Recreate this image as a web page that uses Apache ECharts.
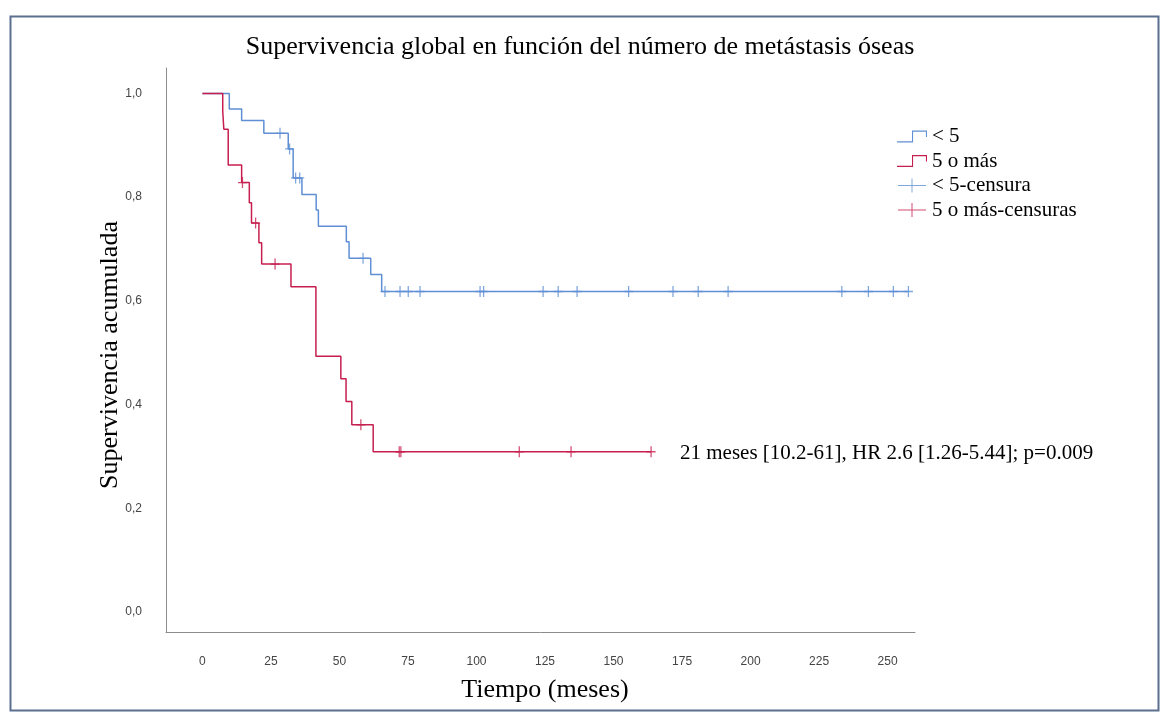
<!DOCTYPE html>
<html>
<head>
<meta charset="utf-8">
<script src="https://cdn.jsdelivr.net/npm/echarts@6/dist/echarts.min.js"></script>
<style>
  html, body { margin: 0; padding: 0; background: #ffffff; }
  #chart { width: 1164px; height: 721px; }
</style>
</head>
<body>
<div id="chart"></div>
<script>
// Kaplan-Meier steps: time (months) of each drop and survival after it
const menos5Tiempo = [0, 9.8, 14.3, 22.4, 31.3, 33.1, 36.3, 41.5, 42.3, 52.5, 53.5, 61.4, 65.4, 257.6];
const menos5Superv = [1.0, 0.970, 0.948, 0.923, 0.893, 0.837, 0.805, 0.775, 0.744, 0.714, 0.682, 0.651, 0.618, 0.618];
const cincoTiempo = [0, 7.4, 7.8, 9.4, 14.3, 17.1, 17.9, 20.6, 21.6, 32.3, 41.4, 50.5, 52.4, 54.5, 62.3, 163.7];
const cincoSuperv = [1.0, 0.966, 0.931, 0.862, 0.828, 0.789, 0.750, 0.712, 0.671, 0.627, 0.493, 0.450, 0.406, 0.361, 0.309, 0.309];

// Censored observations
const menos5CensTiempo = [28.3, 31.8, 34.0, 35.5, 58.6, 66.6, 72.1, 75.1, 79.4, 101.3, 102.6, 124.3, 129.8, 136.7, 155.5, 171.7, 180.9, 191.8, 233.3, 243.0, 252.1, 257.6];
const menos5CensSuperv = [0.923, 0.893, 0.837, 0.837, 0.682, 0.618, 0.618, 0.618, 0.618, 0.618, 0.618, 0.618, 0.618, 0.618, 0.618, 0.618, 0.618, 0.618, 0.618, 0.618, 0.618, 0.618];
const cincoCensTiempo = [14.6, 19.4, 26.5, 57.8, 71.8, 72.4, 115.6, 134.5, 163.7];
const cincoCensSuperv = [0.828, 0.750, 0.671, 0.361, 0.309, 0.309, 0.309, 0.309, 0.309];

// Axis ticks
const xTicks = [0, 25, 50, 75, 100, 125, 150, 175, 200, 225, 250];
const yTicks = [0, 0.2, 0.4, 0.6, 0.8, 1.0];

const nombres = ['< 5', '5 o más', '< 5-censura', '5 o más-censuras'];
const azul = '#5f8fd4';
const rojo = '#c61f4f';

const zip = (a, b) => a.map((v, i) => [v, b[i]]);

const iconoEscalon = 'path://M0,12 L14,12 L14,2 L28,2 L28,8 L27,8 L27,3 L15,3 L15,13 L0,13 Z';
const iconoCensura = 'path://M0,6.5 L13.5,6.5 L13.5,0 L14.5,0 L14.5,6.5 L28,6.5 L28,7.5 L14.5,7.5 L14.5,14 L13.5,14 L13.5,7.5 L0,7.5 Z';
const simboloCruz = 'path://M4.3,0 L5.7,0 L5.7,5.3 L10,5.3 L10,6.7 L5.7,6.7 L5.7,12 L4.3,12 L4.3,6.7 L0,6.7 L0,5.3 L4.3,5.3 Z';

const serif = '"Liberation Serif", "Times New Roman", serif';

const chart = echarts.init(document.getElementById('chart'), null, { renderer: 'canvas' });
chart.setOption({
  animation: false,
  backgroundColor: '#ffffff',
  grid: { left: 166, right: 249, top: 68, bottom: 89, containLabel: false },
  xAxis: {
    type: 'value',
    min: -13.3,
    max: 260,
    splitLine: { show: false },
    axisLine: { show: true, onZero: false, lineStyle: { color: '#8c8c8c', width: 1 } },
    axisTick: { show: false },
    axisLabel: {
      customValues: xTicks,
      margin: 24,
      color: '#444',
      fontFamily: '"Liberation Sans", Arial, sans-serif',
      fontSize: 12
    }
  },
  yAxis: {
    type: 'value',
    min: -0.0386,
    max: 1.049,
    splitLine: { show: false },
    axisLine: { show: true, onZero: false, lineStyle: { color: '#8c8c8c', width: 1 } },
    axisTick: { show: false },
    axisLabel: {
      customValues: yTicks,
      margin: 24,
      color: '#444',
      fontFamily: '"Liberation Sans", Arial, sans-serif',
      fontSize: 12,
      formatter: v => v.toFixed(1).replace('.', ',')
    }
  },
  legend: {
    orient: 'vertical',
    left: 892,
    top: 121,
    itemWidth: 30,
    itemHeight: 14,
    itemGap: 3.5,
    textStyle: { fontFamily: serif, fontSize: 21, lineHeight: 21, color: '#000' },
    data: [
      { name: nombres[0], icon: iconoEscalon },
      { name: nombres[1], icon: iconoEscalon },
      { name: nombres[2], icon: iconoCensura },
      { name: nombres[3], icon: iconoCensura }
    ]
  },
  series: [
    {
      name: nombres[0], type: 'line', step: 'end', showSymbol: false,
      color: azul, lineStyle: { color: azul, width: 1.5 },
      data: zip(menos5Tiempo, menos5Superv), z: 2
    },
    {
      name: nombres[1], type: 'line', step: 'end', showSymbol: false,
      color: rojo, lineStyle: { color: rojo, width: 1.5 },
      data: zip(cincoTiempo, cincoSuperv), z: 3
    },
    {
      name: nombres[2], type: 'scatter', symbol: simboloCruz, symbolSize: [9, 11],
      color: azul, itemStyle: { color: azul },
      data: zip(menos5CensTiempo, menos5CensSuperv), z: 4
    },
    {
      name: nombres[3], type: 'scatter', symbol: simboloCruz, symbolSize: [9, 11],
      color: rojo, itemStyle: { color: rojo },
      data: zip(cincoCensTiempo, cincoCensSuperv), z: 5
    }
  ],
  graphic: [
    {
      type: 'rect', left: 8, top: 14, silent: true,
      shape: { width: 1148, height: 694 },
      style: { fill: 'none', stroke: '#5b6f8f', lineWidth: 2 }
    },
    {
      type: 'text', x: 580, y: 47, silent: true,
      style: { text: 'Supervivencia global en función del número de metástasis óseas',
        font: '26px ' + serif, fill: '#000', align: 'center', verticalAlign: 'middle' }
    },
    {
      type: 'text', x: 110, y: 355, rotation: Math.PI / 2, silent: true,
      style: { text: 'Supervivencia acumulada', font: '26px ' + serif, fill: '#000',
        align: 'center', verticalAlign: 'middle' }
    },
    {
      type: 'text', x: 545, y: 690, silent: true,
      style: { text: 'Tiempo (meses)', font: '26px ' + serif, fill: '#000',
        align: 'center', verticalAlign: 'middle' }
    },
    {
      type: 'text', x: 680, y: 453, silent: true,
      style: { text: '21 meses [10.2-61], HR 2.6 [1.26-5.44]; p=0.009', font: '21px ' + serif,
        fill: '#000', align: 'left', verticalAlign: 'middle' }
    }
  ]
});
</script>
</body>
</html>
